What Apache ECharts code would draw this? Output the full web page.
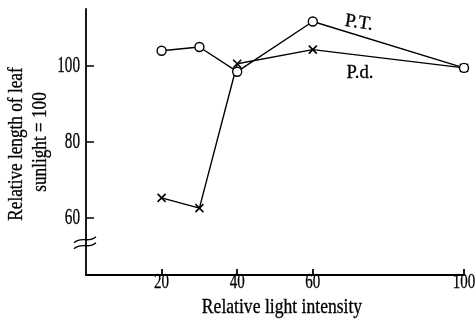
<!DOCTYPE html>
<html>
<head>
<meta charset="utf-8">
<script src="https://cdn.jsdelivr.net/npm/echarts@6/dist/echarts.min.js"></script>
<style>
  html, body { margin: 0; padding: 0; background: #fff; }
  #chart { width: 476px; height: 321px; }
</style>
</head>
<body>
<div id="chart"></div>
<script>
// data
const intensity = [20, 30, 40, 60, 100];
const leafPT = [104, 105, 98.5, 111.7, 99.5];   // open circles
const leafPd = [65.3, 62.6, 100.6, 104.3, 99.5]; // crosses
const xTicks = [20, 40, 60, 100];
const yTicks = [60, 80, 100];
const xName = 'Relative light intensity';
const yName = ['Relative length of leaf', 'sunlight = 100'];

const FONT = '"Liberation Serif", "DejaVu Serif", serif';
const chart = echarts.init(document.getElementById('chart'));

const crossSymbol = 'path://M0,0L10,10M10,0L0,10';

chart.setOption({
    backgroundColor: '#ffffff',
    animation: false,
    grid: { left: 86, right: 12, top: 9, bottom: 46 },
    xAxis: {
        type: 'value', min: 0, max: 100,
        axisLine: { show: true, lineStyle: { color: '#000', width: 1.8 } },
        axisTick: { show: true, inside: true, length: 6, customValues: xTicks, lineStyle: { color: '#000', width: 1.8 } },
        axisLabel: { show: false },
        splitLine: { show: false }
    },
    yAxis: {
        type: 'value', min: 45, max: 115,
        axisLine: { show: true, lineStyle: { color: '#000', width: 1.8 } },
        axisTick: { show: true, inside: true, length: 8, customValues: yTicks, lineStyle: { color: '#000', width: 1.5 } },
        axisLabel: { show: false },
        splitLine: { show: false }
    },
    series: [
        {
            name: 'P.d.', type: 'line',
            data: intensity.map((x, i) => [x, leafPd[i]]),
            symbol: crossSymbol, symbolSize: 8,
            lineStyle: { color: '#000', width: 1.4 },
            itemStyle: { color: 'none', borderColor: '#000', borderWidth: 1.6 },
            z: 2
        },
        {
            name: 'P.T.', type: 'line',
            data: intensity.map((x, i) => [x, leafPT[i]]),
            symbol: 'circle', symbolSize: 9,
            lineStyle: { color: '#000', width: 1.4 },
            itemStyle: { color: '#fff', borderColor: '#000', borderWidth: 1.4 },
            z: 3
        }
    ]
});

// text drawn as graphics so it can be narrowed like the printed figure
const px = (x, y) => chart.convertToPixel({ gridIndex: 0 }, [x, y]);
const txt = (text, x, y, size, opts) => Object.assign({
    type: 'text', x: x, y: y, scaleX: 0.78,
    style: {
        text: text, font: size + 'px ' + FONT, fill: '#000',
        stroke: '#000', lineWidth: 0.3,
        align: 'center', verticalAlign: 'middle'
    }
}, opts || {});

const graphics = [];
xTicks.forEach(v => {
    const p = px(v, 45);
    graphics.push(txt(String(v), p[0], 283, 20, { scaleX: 0.75 }));
});
yTicks.forEach(v => {
    const p = px(0, v);
    const t = txt(String(v), 80, p[1], 23, { scaleX: 0.66 });
    t.style.align = 'right';
    graphics.push(t);
});
graphics.push(txt(xName, 282, 308, 20, { scaleX: 0.88 }));
graphics.push(txt(yName[0], 17, 144, 20, { rotation: Math.PI / 2, scaleX: 0.86 }));
graphics.push(txt(yName[1], 41, 142, 20, { rotation: Math.PI / 2, scaleX: 0.86 }));

// series labels
graphics.push(txt('P.T.', 359, 23, 19, { rotation: -0.15, scaleX: 1 }));
graphics.push(txt('P.d.', 360, 73, 19, { scaleX: 0.98 }));

// axis break marks
const b = px(0, 53.5);
[-3, 3].forEach(dy => {
    graphics.push({
        type: 'bezierCurve',
        shape: {
            x1: b[0] - 12, y1: b[1] + dy + 3,
            cpx1: b[0] - 4, cpy1: b[1] + dy - 4,
            cpx2: b[0] + 2, cpy2: b[1] + dy + 4,
            x2: b[0] + 10, y2: b[1] + dy - 3
        },
        style: { stroke: '#000', lineWidth: 1.3, fill: 'none' }
    });
});

chart.setOption({ graphic: graphics });
</script>
</body>
</html>
